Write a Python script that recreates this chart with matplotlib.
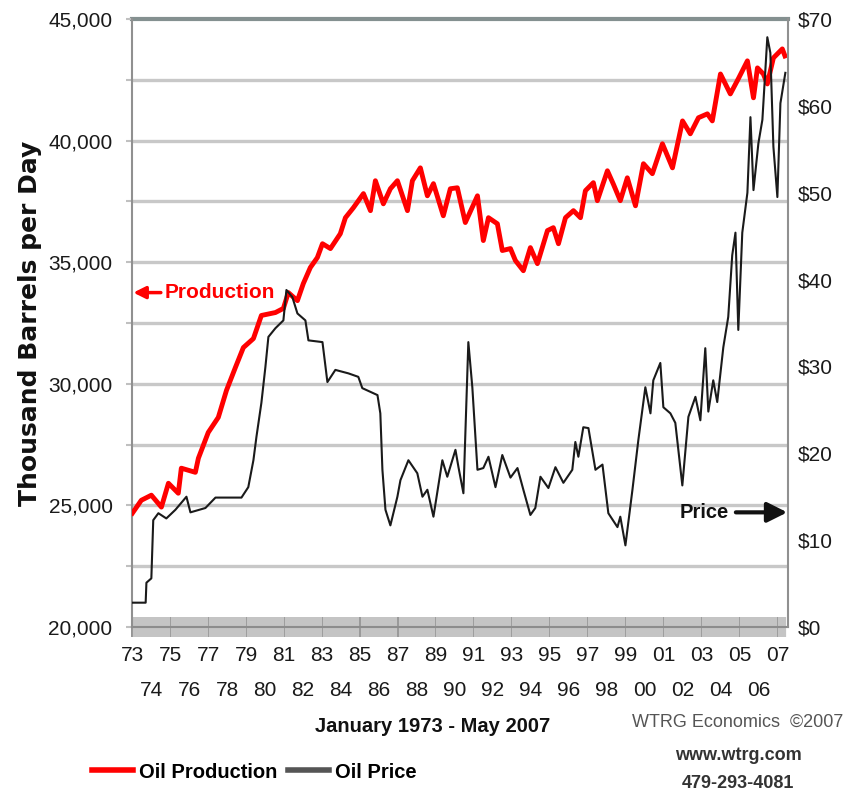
import matplotlib
matplotlib.use('Agg')
import matplotlib.pyplot as plt
from matplotlib.lines import Line2D
from matplotlib.ticker import FixedLocator, NullFormatter

# ---------------- data ----------------
prod_year = [1973.0, 1973.47, 1974.0, 1974.53, 1974.9, 1975.42, 1975.58, 1976.32, 1976.48,
             1977.0, 1977.53, 1977.96, 1978.43, 1978.85, 1979.38, 1979.8, 1980.54, 1980.96,
             1981.22, 1981.7, 1982.01, 1982.38, 1982.75, 1983.02, 1983.44, 1983.96, 1984.23,
             1984.65, 1985.18, 1985.55, 1985.81, 1986.23, 1986.6, 1986.97, 1987.5, 1987.76,
             1988.18, 1988.55, 1988.87, 1989.39, 1989.76, 1990.13, 1990.55, 1991.19, 1991.5,
             1991.77, 1992.24, 1992.5, 1992.93, 1993.19, 1993.61, 1993.98, 1994.35, 1994.88,
             1995.19, 1995.46, 1995.83, 1996.25, 1996.62, 1996.88, 1997.3, 1997.51, 1998.04,
             1998.36, 1998.72, 1999.09, 1999.52, 1999.94, 2000.41, 2000.94, 2001.47, 2002.0,
             2002.41, 2002.84, 2003.31, 2003.57, 2004.0, 2004.52, 2004.94, 2005.42, 2005.74,
             2005.95, 2006.26, 2006.47, 2006.79, 2007.26, 2007.4]
prod_kbd = [24680, 25210, 25420, 24930, 25910, 25500, 26530, 26360, 26940,
            28000, 28620, 29730, 30670, 31490, 31860, 32810, 32930, 33100,
            33750, 33420, 34120, 34780, 35190, 35760, 35560, 36170, 36830,
            37240, 37820, 37120, 38350, 37400, 38020, 38350, 37120, 38350,
            38880, 37730, 38230, 36910, 38020, 38060, 36630, 37730, 35890,
            36830, 36580, 35480, 35560, 35070, 34650, 35600, 34940, 36300,
            36420, 35760, 36830, 37120, 36830, 37940, 38270, 37530, 38760,
            38200, 37530, 38470, 37320, 39050, 38640, 39870, 38880, 40810,
            40280, 40940, 41100, 40810, 42740, 41920, 42540, 43280, 41760,
            42990, 42740, 42330, 43400, 43770, 43480]

price_year = [1973.0, 1973.7, 1973.74, 1974.0, 1974.1, 1974.37, 1974.79, 1975.27, 1975.85,
              1976.06, 1976.85, 1977.38, 1978.75, 1979.11, 1979.38, 1979.54, 1979.8, 1980.01,
              1980.17, 1980.54, 1980.96, 1981.12, 1981.43, 1981.7, 1982.12, 1982.28, 1983.02,
              1983.28, 1983.7, 1984.39, 1984.91, 1985.12, 1985.92, 1986.07, 1986.18, 1986.34,
              1986.6, 1986.97, 1987.13, 1987.55, 1988.02, 1988.29, 1988.55, 1988.87, 1989.34,
              1989.6, 1990.03, 1990.19, 1990.45, 1990.71, 1990.92, 1991.19, 1991.5, 1991.77,
              1992.14, 1992.5, 1992.93, 1993.3, 1993.61, 1993.98, 1994.24, 1994.51, 1994.93,
              1995.3, 1995.72, 1996.19, 1996.35, 1996.51, 1996.77, 1997.04, 1997.41, 1997.78,
              1998.09, 1998.57, 1998.72, 1998.99, 1999.36, 1999.67, 2000.04, 2000.31, 2000.46,
              2000.83, 2000.99, 2001.36, 2001.62, 2001.99, 2002.31, 2002.68, 2002.94, 2003.2,
              2003.36, 2003.62, 2003.83, 2004.15, 2004.41, 2004.62, 2004.79, 2004.94, 2005.15,
              2005.42, 2005.58, 2005.74, 2006.0, 2006.21, 2006.47, 2006.63, 2006.79, 2007.0,
              2007.16, 2007.42]
price_usd = [2.8, 2.8, 5.1, 5.6, 12.3, 13.1, 12.5, 13.5, 15.0,
             13.2, 13.7, 14.9, 14.9, 16.1, 19.2, 21.9, 25.8, 29.9,
             33.4, 34.4, 35.3, 38.8, 38.0, 36.1, 35.3, 33.0, 32.8,
             28.2, 29.6, 29.2, 28.8, 27.5, 26.7, 24.6, 18.1, 13.5,
             11.7, 15.0, 16.9, 19.2, 17.7, 15.0, 15.8, 12.7, 19.2,
             17.3, 20.4, 18.4, 15.4, 32.8, 27.6, 18.1, 18.3, 19.6,
             16.1, 19.8, 17.2, 18.3, 15.8, 12.9, 13.7, 17.3, 16.0,
             18.4, 16.6, 18.1, 21.3, 19.6, 23.0, 22.9, 18.1, 18.7,
             13.1, 11.5, 12.7, 9.4, 15.8, 21.5, 27.6, 24.6, 28.4,
             30.4, 25.3, 24.6, 23.5, 16.3, 24.2, 26.5, 23.8, 32.1,
             24.8, 28.4, 25.9, 32.2, 35.7, 42.8, 45.4, 34.2, 45.4,
             50.0, 58.7, 50.3, 55.7, 58.4, 67.9, 66.1, 55.3, 49.5,
             60.3, 63.8]

left_ticks = [20000, 25000, 30000, 35000, 40000, 45000]
left_labels = ['20,000', '25,000', '30,000', '35,000', '40,000', '45,000']
grid_levels = [22500, 25000, 27500, 30000, 32500, 35000, 37500, 40000, 42500]
right_ticks = [0, 10, 20, 30, 40, 50, 60, 70]
right_labels = ['$0', '$10', '$20', '$30', '$40', '$50', '$60', '$70']
odd_years = list(range(1973, 2008, 2))
odd_labels = ['%02d' % (y % 100) for y in odd_years]
even_years = list(range(1974, 2007, 2))
even_labels = ['%02d' % (y % 100) for y in even_years]

FONT = ['Liberation Sans', 'DejaVu Sans']

# ---------------- figure ----------------
fig = plt.figure(figsize=(8.56, 8.0), dpi=100)
ax = fig.add_axes([132 / 856, 1 - 627 / 800, (788 - 132) / 856, (627 - 19) / 800])
ax2 = ax.twinx()

ax.set_xlim(1972.98, 2007.56)
ax.set_ylim(20000, 45000)
ax2.set_ylim(0, 70)

# grid lines
for g in grid_levels:
    ax.axhline(g, color='#c8c8c8', lw=2.4, zorder=0)
ax.axhline(45000, color='#849090', lw=3, zorder=1, clip_on=False)

ax.plot(prod_year, prod_kbd, color='#ff0000', lw=3.5, zorder=3)
ax2.plot(price_year, price_usd, color='#1a1a1a', lw=1.5, zorder=4)

# spines
ax.spines['top'].set_visible(False)
ax2.spines['top'].set_visible(False)
ax.spines['left'].set_color('#909090')
ax.spines['left'].set_linewidth(1.5)
ax2.spines['right'].set_color('#909090')
ax2.spines['right'].set_linewidth(1.5)
ax2.spines['left'].set_visible(False)
ax.spines['right'].set_visible(False)
ax.spines['bottom'].set_color('#8c8c8c')
ax.spines['bottom'].set_linewidth(1.5)
ax2.spines['bottom'].set_visible(False)

# left axis ticks
ax.set_yticks(left_ticks)
ax.set_yticklabels(left_labels, family=FONT, fontsize=15, color='#1a1a1a')
ax.yaxis.set_minor_locator(FixedLocator(grid_levels))
ax.tick_params(axis='y', which='both', length=4, width=1.5, color='#c0c0c0', pad=10)

# right axis ticks
ax2.set_yticks(right_ticks)
ax2.set_yticklabels(right_labels, family=FONT, fontsize=15, color='#1a1a1a')
ax2.tick_params(axis='y', length=0, pad=7)

# x ticks: odd years first row, even years second row, dense monthly tick band
ax.set_xticks(odd_years)
ax.set_xticklabels(odd_labels, family=FONT, fontsize=15, color='#1a1a1a')
months = [1973 + m / 12 for m in range(0, 34 * 12 + 6)]
ax.xaxis.set_minor_locator(FixedLocator(months))
ax.xaxis.set_minor_formatter(NullFormatter())
ax.tick_params(axis='x', which='minor', direction='inout', length=14, width=1.6, color='#c4c4c4')
ax.tick_params(axis='x', which='major', direction='inout', length=14, width=1.3, color='#8a8a8a', pad=7)

sec = ax.secondary_xaxis('bottom')
sec.set_xticks(even_years)
sec.set_xticklabels(even_labels, family=FONT, fontsize=15, color='#1a1a1a')
sec.tick_params(axis='x', length=0, pad=39)
sec.spines['bottom'].set_visible(False)

ax.set_ylabel('Thousand Barrels per Day', family='DejaVu Sans', fontweight='bold',
              fontsize=18, color='#111111')
ax.yaxis.set_label_coords(-0.137, 0.5)

# annotations
ax.annotate('Production', xy=(1973.05, 33750), xytext=(1974.72, 33750),
            color='#ff0000', fontsize=15, fontweight='bold', family=FONT,
            va='center', ha='left',
            arrowprops=dict(arrowstyle='-|>', color='#ff0000', lw=2.5,
                            mutation_scale=18, shrinkA=1, shrinkB=0))
ax2.annotate('Price', xy=(2007.52, 13.2), xytext=(2001.85, 13.2),
             color='#111111', fontsize=14.5, fontweight='bold', family=FONT,
             va='center', ha='left',
             arrowprops=dict(arrowstyle='-|>', color='#111111', lw=3,
                             mutation_scale=30, shrinkA=3, shrinkB=0))

# bottom texts
fig.text(433 / 856, 1 - 726 / 800, 'January 1973 - May 2007', family=FONT,
         fontweight='bold', fontsize=14.5, ha='center', va='center', color='#111111')
fig.text(738 / 856, 1 - 722 / 800, 'WTRG Economics  \u00a92007', family=FONT,
         fontsize=13, ha='center', va='center', color='#555555')
fig.text(738 / 856, 1 - 755 / 800, 'www.wtrg.com', family=FONT,
         fontsize=13, ha='center', va='center', color='#333333', fontweight='bold')
fig.text(738 / 856, 1 - 784 / 800, '479-293-4081', family=FONT,
         fontsize=13, ha='center', va='center', color='#333333', fontweight='bold')

handles = [Line2D([], [], color='#ff0000', lw=4),
           Line2D([], [], color='#555555', lw=4)]
fig.legend(handles, ['Oil Production', 'Oil Price'], loc='center left',
           bbox_to_anchor=(92 / 856, 1 - 772 / 800), ncol=2, frameon=False,
           borderpad=0, borderaxespad=0, handlelength=2.05, handletextpad=0.3,
           columnspacing=0.5, prop=dict(family=FONT, weight='bold', size=14.5))

fig.savefig('out.png', dpi=100, facecolor='white')
